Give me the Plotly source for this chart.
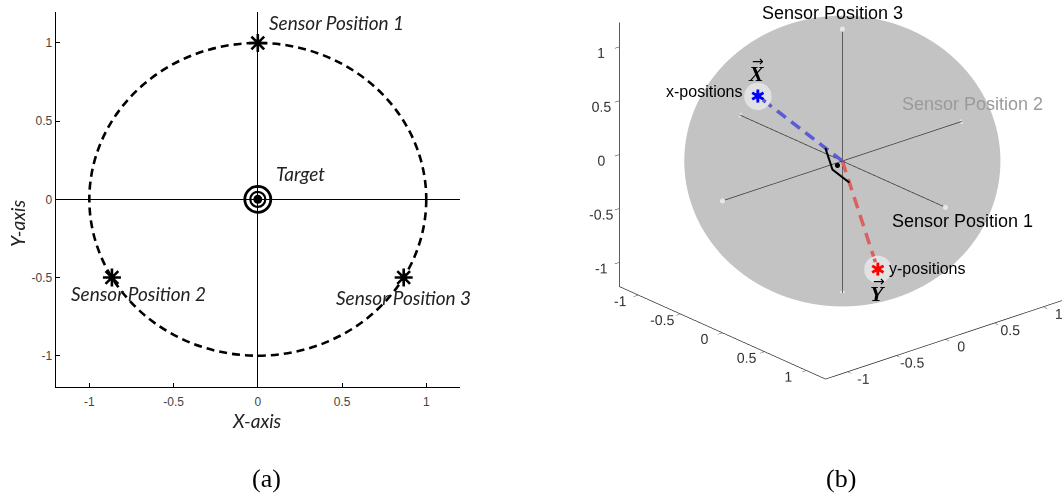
import numpy as np
import plotly.graph_objects as go

# ---- data -----------------------------------------------------------------
# Sensors placed on the unit circle around the target
sensor_names = ["Sensor Position 1", "Sensor Position 2", "Sensor Position 3"]
sensor_x = [0.0, -0.866, 0.866]
sensor_y = [1.0, -0.5, -0.5]
target_x = [0.0]
target_y = [0.0]
ring_radius = 1.0

axis_range = [-1.2, 1.2]
tick_vals = [-1, -0.5, 0, 0.5, 1]
tick_text = ["-1", "-0.5", "0", "0.5", "1"]

# In sensor space every axis belongs to one sensor; the x- and y-coordinates
# of the three sensors become two orthogonal vectors on a sphere.
vec_x = np.array(sensor_x)
vec_y = np.array(sensor_y)
sphere_radius = float(np.linalg.norm(vec_x))
right_angle_size = 0.2

# ---- view of the 3-D panel ------------------------------------------------
AZ = np.radians(-49.3)
EL = np.radians(22.7)
Z_ASPECT = 0.905
BOX_SCALE = 1.275             # overall size of the orthographic box
EYE_DIST = 2.0
PX_PER_UNIT = 241.0           # screen pixels per normalised scene unit
ORIGIN_OFFSET = (29.0, 84.5)  # origin shift from the scene centre (right, up), px
eye_dir = np.array([-np.cos(EL) * np.sin(AZ), -np.cos(EL) * np.cos(AZ), np.sin(EL)])
up = np.array([0.0, 0.0, 1.0])
fwd = -eye_dir
right_vec = np.cross(fwd, up)
right_vec /= np.linalg.norm(right_vec)
up_vec = np.cross(right_vec, fwd)
look_at = -(ORIGIN_OFFSET[0] * right_vec + ORIGIN_OFFSET[1] * up_vec) / PX_PER_UNIT
eye = look_at + EYE_DIST * eye_dir

fig = go.Figure()

# ---- panel (a) ------------------------------------------------------------
fig.add_shape(type="circle", xref="x", yref="y",
              x0=-ring_radius, x1=ring_radius, y0=-ring_radius, y1=ring_radius,
              line=dict(color="black", width=2.6, dash="8px,5px"))

fig.add_trace(go.Scatter(x=sensor_x, y=sensor_y, mode="markers",
                         marker=dict(symbol="asterisk-open", size=15, color="black",
                                     line=dict(color="black", width=2.6)),
                         showlegend=False, hoverinfo="skip"))
fig.add_trace(go.Scatter(x=target_x, y=target_y, mode="markers",
                         marker=dict(symbol="circle-open", size=26, color="black",
                                     line=dict(color="black", width=2.8)),
                         showlegend=False, hoverinfo="skip"))
fig.add_trace(go.Scatter(x=target_x, y=target_y, mode="markers",
                         marker=dict(symbol="circle-open", size=15, color="black",
                                     line=dict(color="black", width=2.2)),
                         showlegend=False, hoverinfo="skip"))
fig.add_trace(go.Scatter(x=target_x, y=target_y, mode="markers",
                         marker=dict(symbol="circle", size=9, color="black"),
                         showlegend=False, hoverinfo="skip"))

label_font = dict(family="Lato", size=19, color="#222222")
label_shifts = [(9, 20), (-43, -16), (-70, -20)]
for name, sx, sy, (dx, dy) in zip(sensor_names, sensor_x, sensor_y, label_shifts):
    fig.add_annotation(x=sx, y=sy, xref="x", yref="y", text=f"<i>{name}</i>",
                       showarrow=False, xanchor="left", yanchor="middle",
                       xshift=dx, yshift=dy, font=label_font)
fig.add_annotation(x=target_x[0], y=target_y[0], xref="x", yref="y",
                   text="<i>Target</i>", showarrow=False, xanchor="left",
                   yanchor="middle", xshift=16, yshift=26, font=label_font)

fig.add_annotation(x=257 / 1062, y=1 - 420 / 496, xref="paper", yref="paper",
                   text="<i>X-axis</i>", showarrow=False, font=label_font,
                   xanchor="center", yanchor="middle")
fig.add_annotation(x=17 / 1062, y=1 - 224 / 496, xref="paper", yref="paper",
                   text="<i>Y-axis</i>", showarrow=False, textangle=-90,
                   font=label_font, xanchor="center", yanchor="middle")

axis_common = dict(range=axis_range, tickmode="array", tickvals=tick_vals,
                   ticktext=tick_text, ticks="inside", ticklen=4,
                   tickcolor="black", showline=True, linecolor="black",
                   linewidth=1, zeroline=True, zerolinecolor="black",
                   zerolinewidth=1, showgrid=False, mirror=False,
                   tickfont=dict(family="Arial", size=12, color="#444444"))

# ---- panel (b) ------------------------------------------------------------
# Back half of the sphere (as seen from the camera) so the axes inside stay visible.
e_data = np.array([eye_dir[0], eye_dir[1], eye_dir[2] / Z_ASPECT])
e_data /= np.linalg.norm(e_data)
a_vec = np.cross(e_data, up)
a_vec /= np.linalg.norm(a_vec)
b_vec = np.cross(e_data, a_vec)
theta = np.linspace(0, np.pi / 2, 40)
phi = np.linspace(0, 2 * np.pi, 120)
TH, PH = np.meshgrid(theta, phi)
shell = (np.sin(TH) * np.cos(PH))[..., None] * a_vec \
    + (np.sin(TH) * np.sin(PH))[..., None] * b_vec \
    - np.cos(TH)[..., None] * e_data
shell *= sphere_radius
fig.add_trace(go.Surface(x=shell[..., 0], y=shell[..., 1], z=shell[..., 2],
                         surfacecolor=np.zeros_like(TH),
                         colorscale=[[0, "#c3c3c3"], [1, "#c3c3c3"]],
                         showscale=False, hoverinfo="skip",
                         lighting=dict(ambient=1, diffuse=0, specular=0,
                                       roughness=1, fresnel=0),
                         scene="scene"))

# sensor axes through the target
zero = [0.0, 0.0]
span = [-sphere_radius, sphere_radius]
for xs, ys, zs in [(span, zero, zero), (zero, span, zero), (zero, zero, span)]:
    fig.add_trace(go.Scatter3d(x=xs, y=ys, z=zs, mode="lines+markers",
                               line=dict(color="#3c3c3c", width=1.5),
                               marker=dict(size=3, color="#e6e6e6",
                                           symbol="circle"),
                               showlegend=False, hoverinfo="skip",
                               scene="scene"))


def dashed(vec, n_dash=6, fill=0.62):
    """Split the segment target -> vec into n_dash pieces separated by gaps."""
    xs, ys, zs = [], [], []
    for k in range(n_dash):
        for t in (k / n_dash, (k + fill) / n_dash):
            xs.append(t * vec[0]); ys.append(t * vec[1]); zs.append(t * vec[2])
        xs.append(None); ys.append(None); zs.append(None)
    return xs, ys, zs


# dashed vectors from the target to the x- and y-positions
for vec, col in [(vec_x, "#5b5bd6"), (vec_y, "#dd6060")]:
    xs, ys, zs = dashed(vec)
    fig.add_trace(go.Scatter3d(x=xs, y=ys, z=zs, mode="lines",
                               line=dict(color=col, width=7),
                               showlegend=False, hoverinfo="skip", scene="scene"))

# right-angle mark between the two vectors
corner = right_angle_size * (vec_x + vec_y)
ra = np.array([right_angle_size * vec_x, corner, right_angle_size * vec_y])
fig.add_trace(go.Scatter3d(x=ra[:, 0], y=ra[:, 1], z=ra[:, 2], mode="lines",
                           line=dict(color="black", width=4),
                           showlegend=False, hoverinfo="skip", scene="scene"))
dot = 0.5 * corner
fig.add_trace(go.Scatter3d(x=[dot[0]], y=[dot[1]], z=[dot[2]], mode="markers",
                           marker=dict(size=3, color="black"),
                           showlegend=False, hoverinfo="skip", scene="scene"))

# highlighted end points of the vectors
push = 0.08 * e_data
for vec, col in [(vec_x, "blue"), (vec_y, "red")]:
    halo = vec - push
    fig.add_trace(go.Scatter3d(x=[halo[0]], y=[halo[1]], z=[halo[2]], mode="markers",
                               marker=dict(size=16, color="#e2e2e2", symbol="circle"),
                               showlegend=False, hoverinfo="skip", scene="scene"))
    fig.add_trace(go.Scatter3d(x=[vec[0]], y=[vec[1]], z=[vec[2]], mode="text",
                               text=["✱"], textposition="middle center",
                               textfont=dict(size=18, color=col, family="DejaVu Sans"),
                               showlegend=False, hoverinfo="skip", scene="scene"))

scene_font = dict(family="Arial", size=18, color="black")
axis_ends = [(sphere_radius, 0, 0), (0, sphere_radius, 0), (0, 0, sphere_radius)]
scene_ann = [
    dict(x=axis_ends[0][0], y=axis_ends[0][1], z=axis_ends[0][2], text=sensor_names[0],
         xanchor="left", yanchor="middle", xshift=-55, yshift=-14, font=scene_font),
    dict(x=axis_ends[1][0], y=axis_ends[1][1], z=axis_ends[1][2], text=sensor_names[1],
         xanchor="left", yanchor="middle", xshift=-62, yshift=17,
         font=dict(family="Arial", size=18, color="#9a9a9a")),
    dict(x=axis_ends[2][0], y=axis_ends[2][1], z=axis_ends[2][2], text=sensor_names[2],
         xanchor="center", yanchor="middle", xshift=-10, yshift=16, font=scene_font),
    dict(x=vec_x[0], y=vec_x[1], z=vec_x[2], text="x-positions",
         xanchor="right", yanchor="middle", xshift=-14, yshift=4,
         font=dict(family="Arial", size=16, color="black")),
    dict(x=vec_y[0], y=vec_y[1], z=vec_y[2], text="y-positions",
         xanchor="left", yanchor="middle", xshift=9, yshift=0,
         font=dict(family="Arial", size=16, color="black")),
    dict(x=vec_x[0], y=vec_x[1], z=vec_x[2], text="<b><i>X</i></b>",
         xanchor="center", yanchor="middle", xshift=-1, yshift=22,
         font=dict(family="Liberation Serif", size=22, color="black")),
    dict(x=vec_x[0], y=vec_x[1], z=vec_x[2], text="→",
         xanchor="center", yanchor="middle", xshift=0, yshift=35,
         font=dict(family="DejaVu Sans", size=14, color="black")),
    dict(x=vec_y[0], y=vec_y[1], z=vec_y[2], text="<b><i>Y</i></b>",
         xanchor="center", yanchor="middle", xshift=0, yshift=-25,
         font=dict(family="Liberation Serif", size=22, color="black")),
    dict(x=vec_y[0], y=vec_y[1], z=vec_y[2], text="→",
         xanchor="center", yanchor="middle", xshift=1, yshift=-12,
         font=dict(family="DejaVu Sans", size=14, color="black")),
]
for ann in scene_ann:
    ann["showarrow"] = False

axis3d = dict(range=[-sphere_radius, sphere_radius], tickmode="array",
              tickvals=tick_vals, ticktext=tick_text, showgrid=False,
              zeroline=False, showbackground=False, showline=True,
              linecolor="#262626", linewidth=1.5, ticks="outside", ticklen=6,
              tickcolor="#262626", showspikes=False, title=dict(text=""),
              tickangle=0,
              tickfont=dict(family="Arial", size=13, color="#333333"))

fig.update_layout(
    width=1062, height=496, margin=dict(l=0, r=0, t=0, b=0),
    paper_bgcolor="white", plot_bgcolor="white", showlegend=False,
    xaxis=dict(domain=[0.0524, 0.4331], ticklabelstandoff=4, **axis_common),
    yaxis=dict(domain=[0.2198, 0.9764], **axis_common),
    scene=dict(domain=dict(x=[0.53, 1.0], y=[0.0, 1.0]),
               xaxis=axis3d, yaxis=axis3d, zaxis=axis3d,
               aspectmode="manual",
               aspectratio=dict(x=BOX_SCALE, y=BOX_SCALE, z=BOX_SCALE * Z_ASPECT),
               camera=dict(eye=dict(x=eye[0], y=eye[1], z=eye[2]),
                           center=dict(x=look_at[0], y=look_at[1], z=look_at[2]),
                           up=dict(x=0, y=0, z=1),
                           projection=dict(type="orthographic")),
               annotations=scene_ann, bgcolor="white"),
)

# panel captions
for txt, xc in [("(a)", 266), ("(b)", 841)]:
    fig.add_annotation(x=xc / 1062, y=1 - 478 / 496, xref="paper", yref="paper",
                       text=txt, showarrow=False, xanchor="center", yanchor="middle",
                       font=dict(family="Liberation Serif", size=26, color="black"))

fig.write_html("out.html")
